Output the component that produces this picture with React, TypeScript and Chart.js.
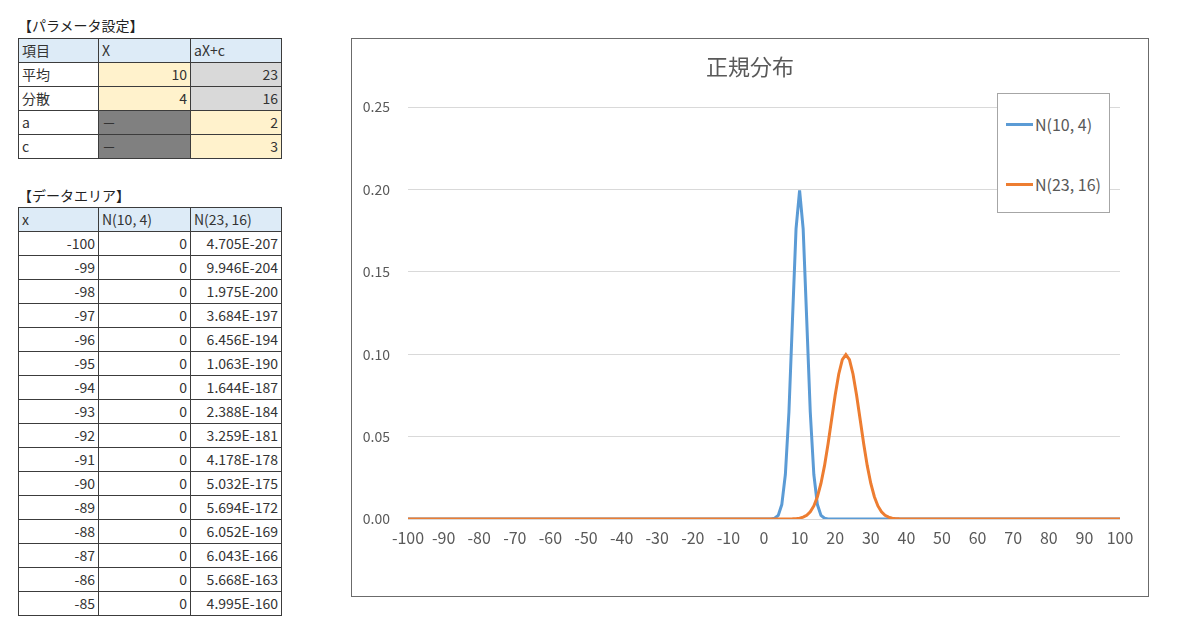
import React, { useEffect, useRef } from "react";
import { Chart, registerables } from "chart.js";

Chart.register(...registerables);

// ---------- chart data ----------
const chartTitle = "正規分布";
const seriesNames = ["N(10, 4)", "N(23, 16)"];
const seriesColors = ["#5B9BD5", "#ED7D31"];

const xValues = [
  -100, -99, -98, -97, -96, -95, -94, -93, -92, -91,
  -90, -89, -88, -87, -86, -85, -84, -83, -82, -81,
  -80, -79, -78, -77, -76, -75, -74, -73, -72, -71,
  -70, -69, -68, -67, -66, -65, -64, -63, -62, -61,
  -60, -59, -58, -57, -56, -55, -54, -53, -52, -51,
  -50, -49, -48, -47, -46, -45, -44, -43, -42, -41,
  -40, -39, -38, -37, -36, -35, -34, -33, -32, -31,
  -30, -29, -28, -27, -26, -25, -24, -23, -22, -21,
  -20, -19, -18, -17, -16, -15, -14, -13, -12, -11,
  -10, -9, -8, -7, -6, -5, -4, -3, -2, -1,
  0, 1, 2, 3, 4, 5, 6, 7, 8, 9,
  10, 11, 12, 13, 14, 15, 16, 17, 18, 19,
  20, 21, 22, 23, 24, 25, 26, 27, 28, 29,
  30, 31, 32, 33, 34, 35, 36, 37, 38, 39,
  40, 41, 42, 43, 44, 45, 46, 47, 48, 49,
  50, 51, 52, 53, 54, 55, 56, 57, 58, 59,
  60, 61, 62, 63, 64, 65, 66, 67, 68, 69,
  70, 71, 72, 73, 74, 75, 76, 77, 78, 79,
  80, 81, 82, 83, 84, 85, 86, 87, 88, 89,
  90, 91, 92, 93, 94, 95, 96, 97, 98, 99,
  100,
];

const seriesN10_4 = [
  0, 0, 0, 0, 0, 0, 0, 0, 0, 0,
  0, 0, 0, 0, 0, 0, 0, 0, 0, 0,
  0, 0, 0, 0, 0, 0, 0, 0, 0, 0,
  0, 0, 0, 0, 0, 0, 0, 0, 0, 0,
  0, 0, 0, 0, 0, 0, 0, 0, 0, 0,
  0, 0, 0, 0, 0, 0, 0, 0, 0, 0,
  0, 0, 0, 0, 0, 0, 0, 0, 0, 0,
  0, 0, 0, 0, 0, 0, 0, 0, 0, 0,
  0, 0, 0, 0, 0, 0, 0, 0, 0, 0,
  0, 0, 0, 0, 0, 0, 0, 0, 0, 0,
  7.43e-7, 7.99e-6, 6.69e-5, 0.000436, 0.002216, 0.008764, 0.027, 0.06476, 0.12099, 0.17603,
  0.19947, 0.17603, 0.12099, 0.06476, 0.027, 0.008764, 0.002216, 0.000436, 6.69e-5, 7.99e-6,
  7.43e-7, 0, 0, 0, 0, 0, 0, 0, 0, 0,
  0, 0, 0, 0, 0, 0, 0, 0, 0, 0,
  0, 0, 0, 0, 0, 0, 0, 0, 0, 0,
  0, 0, 0, 0, 0, 0, 0, 0, 0, 0,
  0, 0, 0, 0, 0, 0, 0, 0, 0, 0,
  0, 0, 0, 0, 0, 0, 0, 0, 0, 0,
  0, 0, 0, 0, 0, 0, 0, 0, 0, 0,
  0, 0, 0, 0, 0, 0, 0, 0, 0, 0,
  0,
];

const seriesN23_16 = [
  0, 0, 0, 0, 0, 0, 0, 0, 0, 0,
  0, 0, 0, 0, 0, 0, 0, 0, 0, 0,
  0, 0, 0, 0, 0, 0, 0, 0, 0, 0,
  0, 0, 0, 0, 0, 0, 0, 0, 0, 0,
  0, 0, 0, 0, 0, 0, 0, 0, 0, 0,
  0, 0, 0, 0, 0, 0, 0, 0, 0, 0,
  0, 0, 0, 0, 0, 0, 0, 0, 0, 0,
  0, 0, 0, 0, 0, 0, 0, 0, 0, 0,
  0, 0, 0, 0, 0, 0, 0, 0, 0, 0,
  0, 0, 0, 0, 0, 0, 0, 0, 0, 0,
  0, 0, 0, 0, 0, 0, 0, 3.34e-5, 8.82e-5, 0.000218,
  0.000507, 0.001108, 0.002273, 0.004382, 0.007935, 0.0135, 0.02157, 0.03238, 0.04566, 0.06049,
  0.07529, 0.08802, 0.09667, 0.09974, 0.09667, 0.08802, 0.07529, 0.06049, 0.04566, 0.03238,
  0.02157, 0.0135, 0.007935, 0.004382, 0.002273, 0.001108, 0.000507, 0.000218, 8.82e-5, 3.34e-5,
  0, 0, 0, 0, 0, 0, 0, 0, 0, 0,
  0, 0, 0, 0, 0, 0, 0, 0, 0, 0,
  0, 0, 0, 0, 0, 0, 0, 0, 0, 0,
  0, 0, 0, 0, 0, 0, 0, 0, 0, 0,
  0, 0, 0, 0, 0, 0, 0, 0, 0, 0,
  0, 0, 0, 0, 0, 0, 0, 0, 0, 0,
  0,
];

const yMin = 0;
const yMax = 0.25;
const yStep = 0.05;

// ---------- sheet tables ----------
const paramTitle = "【パラメータ設定】";
const paramHeader = ["項目", "X", "aX+c"];
const paramLabels = ["平均", "分散", "a", "c"];
const paramX = ["10", "4", "－", "－"];
const paramAXC = ["23", "16", "2", "3"];

const dataTitle = "【データエリア】";
const dataHeader = ["x", "N(10, 4)", "N(23, 16)"];
const dataX = ["-100", "-99", "-98", "-97", "-96", "-95", "-94", "-93", "-92", "-91", "-90", "-89", "-88", "-87", "-86", "-85"];
const dataN1 = ["0", "0", "0", "0", "0", "0", "0", "0", "0", "0", "0", "0", "0", "0", "0", "0"];
const dataN2 = [
  "4.705E-207", "9.946E-204", "1.975E-200", "3.684E-197", "6.456E-194", "1.063E-190",
  "1.644E-187", "2.388E-184", "3.259E-181", "4.178E-178", "5.032E-175", "5.694E-172",
  "6.052E-169", "6.043E-166", "5.668E-163", "4.995E-160",
];

const FONT = "'Noto Sans CJK JP', 'Noto Sans', sans-serif";
const COLS = [18, 98, 190, 281];
const ROW_H = 24;
const BORDER = "#3c3c3c";
const HEAD_BG = "#DDEBF7";
const YELLOW = "#FFF2CC";
const GRAY = "#D9D9D9";
const DARK = "#808080";

type CellSpec = { text: string; align: "left" | "right"; bg: string };

function SheetTable({ top, rows }: { top: number; rows: CellSpec[][] }) {
  const cells: React.ReactNode[] = [];
  rows.forEach((row, r) => {
    row.forEach((c, ci) => {
      const left = COLS[ci];
      const width = COLS[ci + 1] - COLS[ci] + 1;
      cells.push(
        <div
          key={`${r}-${ci}`}
          style={{
            position: "absolute",
            left,
            top: top + r * ROW_H,
            width,
            height: ROW_H + 1,
            boxSizing: "border-box",
            border: `1px solid ${BORDER}`,
            background: c.bg,
            textAlign: c.align,
            padding: "0 3px",
            lineHeight: `${ROW_H - 1}px`,
            fontSize: 14,
            color: "#333",
            whiteSpace: "nowrap",
            overflow: "hidden",
          }}
        >
          {c.text}
        </div>
      );
    });
  });
  return <>{cells}</>;
}

function LineChart() {
  const ref = useRef<HTMLCanvasElement | null>(null);
  useEffect(() => {
    if (!ref.current) return;
    const chart = new Chart(ref.current, {
      type: "line",
      data: {
        labels: xValues,
        datasets: [
          {
            label: seriesNames[0],
            data: seriesN10_4,
            borderColor: seriesColors[0],
            backgroundColor: seriesColors[0],
            borderWidth: 3,
            pointRadius: 0,
            tension: 0,
            order: 2,
          },
          {
            label: seriesNames[1],
            data: seriesN23_16,
            borderColor: seriesColors[1],
            backgroundColor: seriesColors[1],
            borderWidth: 3,
            pointRadius: 0,
            tension: 0,
            order: 1,
          },
        ],
      },
      options: {
        responsive: false,
        animation: false,
        layout: { padding: { left: 0, right: 28, top: 68, bottom: 47 } },
        plugins: {
          legend: { display: false },
          title: { display: false },
          tooltip: { enabled: false },
        },
        scales: {
          x: {
            type: "category",
            offset: false,
            grid: { display: false, drawTicks: false },
            border: { display: false },
            afterFit: (scale: any) => {
              scale.height = 30;
            },
            ticks: {
              autoSkip: false,
              maxRotation: 0,
              minRotation: 0,
              padding: 9,
              color: "#595959",
              font: { family: FONT, size: 16 },
              callback: (_v: any, i: number) => (xValues[i] % 10 === 0 ? String(xValues[i]) : null),
            },
          },
          y: {
            min: yMin,
            max: yMax,
            grid: { color: "#D9D9D9", lineWidth: 1, drawTicks: false },
            border: { display: false },
            afterFit: (scale: any) => {
              scale.width = 56;
            },
            ticks: {
              stepSize: yStep,
              padding: 18,
              color: "#595959",
              font: { family: FONT, size: 14 },
              callback: (v: any) => Number(v).toFixed(2),
            },
          },
        },
      },
    });
    return () => chart.destroy();
  }, []);
  return <canvas ref={ref} width={796} height={557} style={{ display: "block" }} />;
}

export default function App() {
  const paramRows: CellSpec[][] = [
    paramHeader.map((t) => ({ text: t, align: "left" as const, bg: HEAD_BG })),
    ...paramLabels.map((lab, i) => {
      const dash = paramX[i] === "－";
      return [
        { text: lab, align: "left" as const, bg: "#fff" },
        { text: paramX[i], align: (dash ? "left" : "right") as "left" | "right", bg: dash ? DARK : YELLOW },
        { text: paramAXC[i], align: "right" as const, bg: dash ? YELLOW : GRAY },
      ];
    }),
  ];
  const dataRows: CellSpec[][] = [
    dataHeader.map((t) => ({ text: t, align: "left" as const, bg: HEAD_BG })),
    ...dataX.map((x, i) => [
      { text: x, align: "right" as const, bg: "#fff" },
      { text: dataN1[i], align: "right" as const, bg: "#fff" },
      { text: dataN2[i], align: "right" as const, bg: "#fff" },
    ]),
  ];

  return (
    <div
      style={{
        position: "absolute",
        left: 0,
        top: 0,
        width: 1200,
        height: 617,
        background: "#fff",
        fontFamily: FONT,
        overflow: "hidden",
      }}
    >
      <div style={{ position: "absolute", left: 18, top: 15, fontSize: 14, lineHeight: "20px", color: "#222" }}>
        {paramTitle}
      </div>
      <SheetTable top={38} rows={paramRows} />
      <div style={{ position: "absolute", left: 18, top: 185, fontSize: 14, lineHeight: "20px", color: "#222" }}>
        {dataTitle}
      </div>
      <SheetTable top={207} rows={dataRows} />

      <div
        style={{
          position: "absolute",
          left: 351,
          top: 38,
          width: 798,
          height: 559,
          boxSizing: "border-box",
          border: "1px solid #6b6b6b",
          background: "#fff",
        }}
      >
        <LineChart />
      </div>
      <div
        style={{
          position: "absolute",
          left: 351,
          top: 51,
          width: 798,
          textAlign: "center",
          fontSize: 22,
          lineHeight: "28px",
          color: "#595959",
        }}
      >
        {chartTitle}
      </div>
      <div
        style={{
          position: "absolute",
          left: 997,
          top: 93,
          width: 113,
          height: 120,
          boxSizing: "border-box",
          border: "1px solid #a6a6a6",
          background: "#fff",
        }}
      >
        {seriesNames.map((name, i) => (
          <div key={name} style={{ position: "absolute", left: 8, top: 18 + i * 60, height: 24, display: "flex", alignItems: "center" }}>
            <div style={{ width: 27, height: 3, background: seriesColors[i], marginRight: 2 }} />
            <span style={{ fontSize: 16, color: "#595959", whiteSpace: "nowrap" }}>{name}</span>
          </div>
        ))}
      </div>
    </div>
  );
}
